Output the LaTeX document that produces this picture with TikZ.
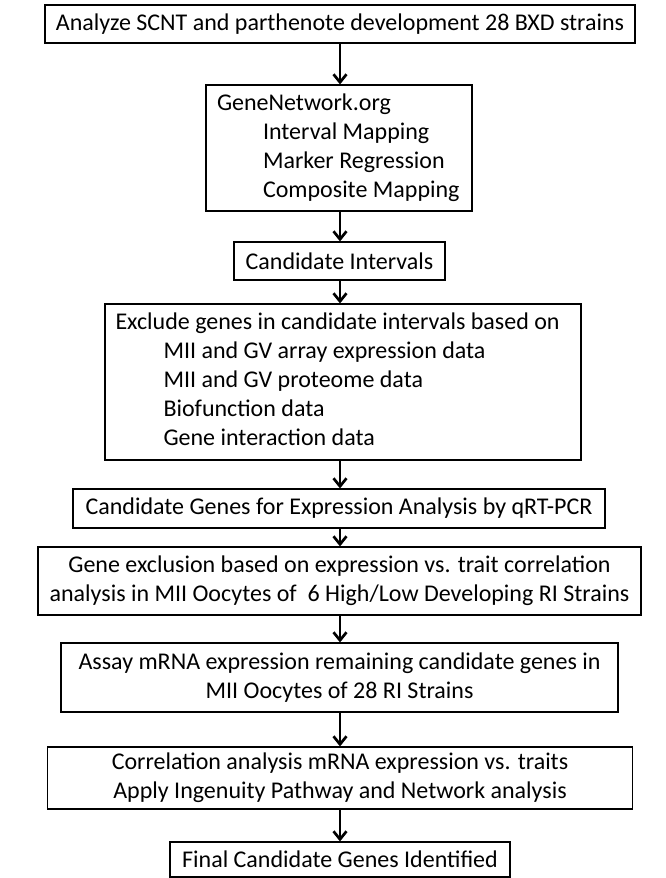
\documentclass[tikz,border=0pt]{standalone}
\usepackage{fontspec}
\setmainfont{Carlito}
\usetikzlibrary{arrows.meta}
\newcommand{\lefttext}[2]{\makebox[#1][l]{\begin{tabular}{@{}l@{}}#2\end{tabular}}}
\begin{document}
\begin{tikzpicture}[x=1pt,y=-1pt,
  box/.style={draw, line width=1.2pt, inner sep=0pt, align=center},
  arr/.style={line width=2.7pt, -{Straight Barb[length=8pt,width=13pt,line width=2.7pt]}},
  every node/.style={font=\fontsize{24}{29}\selectfont}]
\useasboundingbox (0,0) rectangle (666,878);
\coordinate (ax) at (340,0);
\node[box, minimum width=590, minimum height=38] (b1) at (340,24) {Analyze SCNT and parthenote development 28 BXD strains};
\node[box, minimum width=266, minimum height=126] (b2) at (339,148) {\lefttext{244pt}{GeneNetwork.org\\\hspace*{46pt}Interval Mapping\\\hspace*{46pt}Marker Regression\\\hspace*{46pt}Composite Mapping}};
\node[box, minimum width=211, minimum height=38] (b3) at (339.5,261) {Candidate Intervals};
\node[box, minimum width=476, minimum height=156] (b4) at (343,382) {\lefttext{455pt}{Exclude genes in candidate intervals based on\\\hspace*{48pt}MII and GV array expression data\\\hspace*{48pt}MII and GV proteome data\\\hspace*{48pt}Biofunction data\\\hspace*{48pt}Gene interaction data}};
\node[box, minimum width=532, minimum height=39] (b5) at (339,508.5) {Candidate Genes for Expression Analysis by qRT-PCR};
\node[box, minimum width=603, minimum height=68] (b6) at (339.5,581) {Gene exclusion based on expression vs. trait correlation\\analysis in MII Oocytes of~ 6 High/Low Developing RI Strains};
\node[box, minimum width=557, minimum height=69] (b7) at (339.5,677.5) {Assay mRNA expression remaining candidate genes in\\MII Oocytes of 28 RI Strains};
\node[box, minimum width=585, minimum height=62] (b8) at (340,778) {Correlation analysis mRNA expression vs. traits\\Apply Ingenuity Pathway and Network analysis};
\node[box, minimum width=340, minimum height=35] (b9) at (340,859.5) {Final Candidate Genes Identified};
\draw[arr] (b1.south -| ax) -- (b2.north -| ax);
\draw[arr] (b2.south -| ax) -- (b3.north -| ax);
\draw[arr] (b3.south -| ax) -- (b4.north -| ax);
\draw[arr] (b4.south -| ax) -- (b5.north -| ax);
\draw[arr] (b5.south -| ax) -- (b6.north -| ax);
\draw[arr] (b6.south -| ax) -- (b7.north -| ax);
\draw[arr] (b7.south -| ax) -- (b8.north -| ax);
\draw[arr] (b8.south -| ax) -- (b9.north -| ax);
\end{tikzpicture}
\end{document}
